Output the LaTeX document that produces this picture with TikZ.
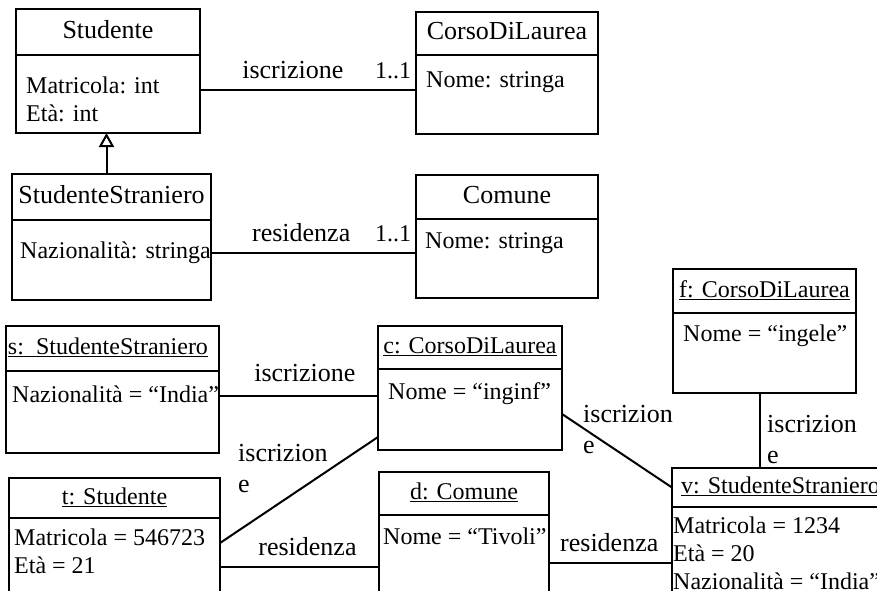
\documentclass[tikz,border=0pt]{standalone}
\usepackage{fontspec}
\setmainfont{Liberation Serif}
\usetikzlibrary{arrows.meta,positioning}

\begin{document}
\begin{tikzpicture}[
    x=1pt, y=-1pt,
    font=\fontsize{24}{28}\selectfont,
    head/.style={draw, line width=2pt, anchor=north west, inner sep=0pt, outer sep=0pt, text height=17pt, text depth=5pt},
    cls/.style={head, font=\fontsize{26}{31}\selectfont},
    body/.style={draw, line width=2pt, inner sep=0pt, outer sep=0pt},
    attr/.style={anchor=north west, inner sep=0pt, align=left},
    wrap/.style={anchor=north west, inner sep=0pt, align=left, font=\fontsize{26}{31}\selectfont},
    assoc/.style={line width=2pt},
    gen/.style={line width=2pt, -{Triangle[open, length=14pt, width=15pt]}},
    lbl/.style={above=10pt, inner sep=0pt, font=\fontsize{26}{31}\selectfont},
    mult/.style={pos=1, above left=10pt and 4pt, inner sep=0pt}
]
\clip (0,0) rectangle (877,590);

\node[cls, minimum width=184pt, minimum height=46pt] (studH) at (16,9) {Studente};
\node[body, minimum width=184pt, minimum height=78pt, below=0pt of studH] (studB) {};
\node[attr] (studA) at (26,77) {Matricola: int\\Età: int};

\node[cls, minimum width=182pt, minimum height=43pt] (cdlH) at (416,12) {CorsoDiLaurea};
\node[body, minimum width=182pt, minimum height=79pt, below=0pt of cdlH] (cdlB) {};
\node[attr] (cdlA) at (426,71) {Nome: stringa};

\node[cls, minimum width=199pt, minimum height=46pt] (ssH) at (12,174) {StudenteStraniero};
\node[body, minimum width=199pt, minimum height=80pt, below=0pt of ssH] (ssB) {};
\node[attr] (ssA) at (20,242) {Nazionalità: stringa};

\node[cls, minimum width=182pt, minimum height=44pt] (comH) at (416,175) {Comune};
\node[body, minimum width=182pt, minimum height=79pt, below=0pt of comH] (comB) {};
\node[attr] (comA) at (425,232) {Nome: stringa};

\node[head, minimum width=213pt, minimum height=45pt, text width=209pt, inner xsep=2pt, align=left] (sH) at (6,326) {\underline{s: StudenteStraniero}};
\node[body, minimum width=213pt, minimum height=82pt, below=0pt of sH] (sB) {};
\node[attr] (sA) at (12,386) {Nazionalità = “India”};

\node[head, minimum width=184pt, minimum height=43pt] (cH) at (378,326) {\underline{c: CorsoDiLaurea}};
\node[body, minimum width=184pt, minimum height=81pt, below=0pt of cH] (cB) {};
\node[attr] (cA) at (388,382) {Nome = “inginf”};

\node[head, minimum width=183pt, minimum height=44pt] (fH) at (673,269) {\underline{f: CorsoDiLaurea}};
\node[body, minimum width=183pt, minimum height=80pt, below=0pt of fH] (fB) {};
\node[attr] (fA) at (683,325) {Nome = “ingele”};

\node[head, minimum width=211pt, minimum height=40pt] (tH) at (9,478) {\underline{t: Studente}};
\node[body, minimum width=211pt, minimum height=100pt, below=0pt of tH] (tB) {};
\node[attr] (tA) at (14,529) {Matricola = 546723\\Età = 21};

\node[head, minimum width=170pt, minimum height=43pt] (dH) at (379,472) {\underline{d: Comune}};
\node[body, minimum width=170pt, minimum height=100pt, below=0pt of dH] (dB) {};
\node[attr] (dA) at (383,528) {Nome = “Tivoli”};

\node[head, minimum width=217pt, minimum height=39pt] (vH) at (672,468) {\underline{v: StudenteStraniero}};
\node[body, minimum width=217pt, minimum height=100pt, below=0pt of vH] (vB) {};
\node[attr] (vA) at (673,517) {Matricola = 1234\\Età = 20\\Nazionalità = “India”};

\draw[gen] ([xshift=-5pt]ssH.north) -- ([xshift=-5pt]ssH.north |- studB.south);

\draw[assoc] ([yshift=4pt]studB.east) -- ([yshift=4pt]studB.east -| cdlB.west)
    node[lbl, pos=.43] {iscrizione}
    node[mult] {1..1};
\draw[assoc] ([yshift=7pt]ssB.east) -- ([yshift=7pt]ssB.east -| comB.west)
    node[lbl, pos=.44] {residenza}
    node[mult] {1..1};

\draw[assoc] ([yshift=16pt]sB.east) -- ([yshift=16pt]sB.east -| cB.west)
    node[lbl, above=13pt, pos=.54] {iscrizione};
\draw[assoc] ([yshift=-25pt]tB.north east) -- ([yshift=13pt]cB.south west);
\node[wrap] (l4) at (238,444) {iscrizion\\e};
\draw[assoc] ([yshift=-49pt]tB.north east) -- ([yshift=-49pt]tB.north east -| dB.west)
    node[lbl, pos=.55] {residenza};
\draw[assoc] ([yshift=-48pt]dB.north east) -- ([yshift=-48pt]dB.north east -| vB.west)
    node[lbl, pos=.49] {residenza};
\draw[assoc] ([yshift=-45pt]cB.north east) -- (vH.west);
\node[wrap] (l7) at (583,405) {iscrizion\\e};
\draw[assoc] ([xshift=-4.5pt]fB.south) -- ([xshift=-4.5pt]fB.south |- vH.north);
\node[wrap] (l8) at (767,415) {iscrizion\\e};
\end{tikzpicture}
\end{document}
